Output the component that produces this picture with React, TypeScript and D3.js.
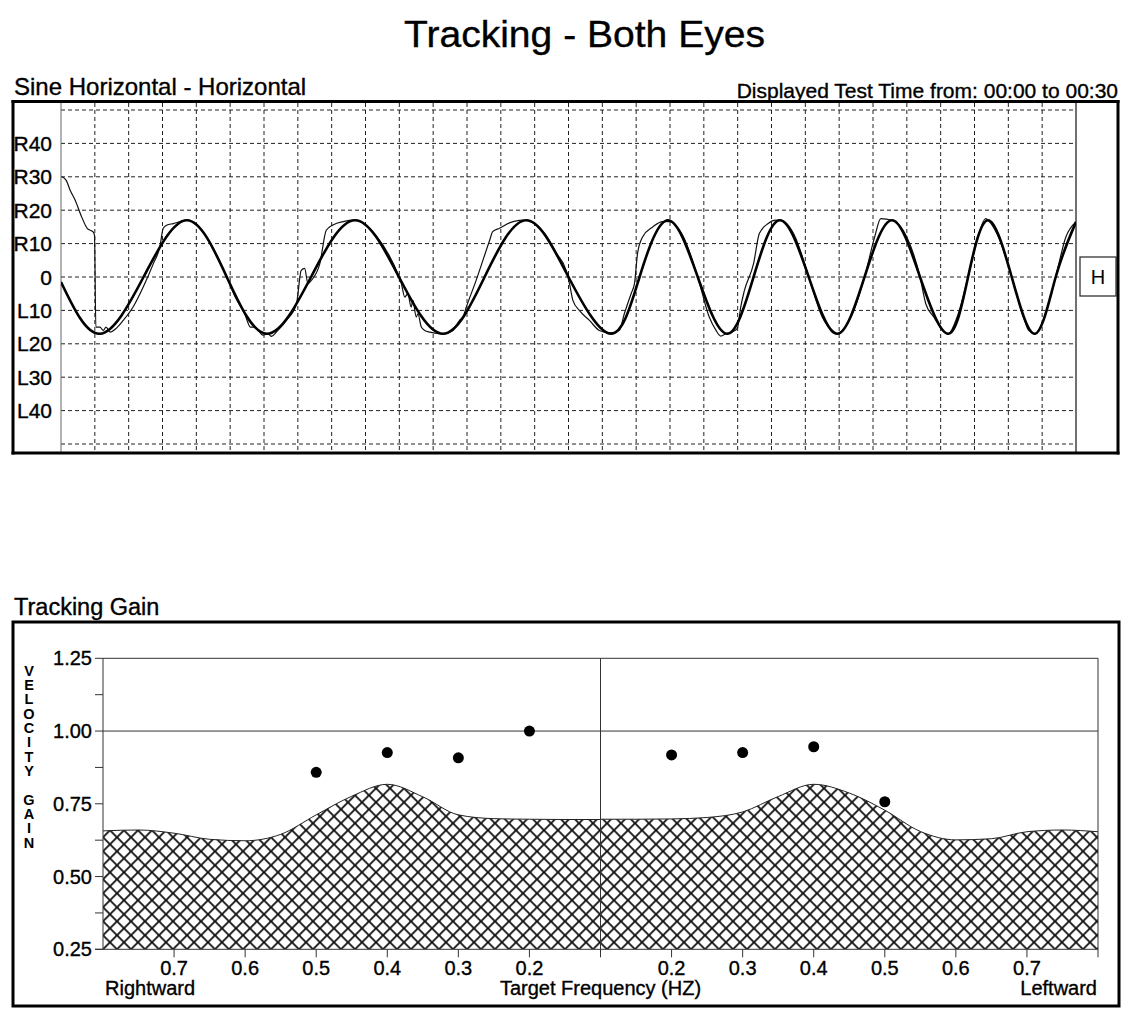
import React from "react";
import * as d3 from "d3";

const FONT = "'Liberation Sans', Arial, Helvetica, sans-serif";

// ---- top panel: sine tracking, seconds vs degrees ----
const rowLabels = ["R40", "R30", "R20", "R10", "0", "L10", "L20", "L30", "L40"];
const rowValues = [40, 30, 20, 10, 0, -10, -20, -30, -40];
const gridDegrees = [50, 40, 30, 20, 10, 0, -10, -20, -30, -40, -50];
const gridSeconds = [1, 2, 3, 4, 5, 6, 7, 8, 9, 10, 11, 12, 13, 14, 15, 16, 17, 18, 19, 20, 21, 22, 23, 24, 25, 26, 27, 28, 29];

// target position (thick line): extremes and zero crossings
const targetTrace: [number, number][] = [
  [0, -1.5], [1.15, -17], [2.44, 0], [3.72, 17], [4.9, 0], [6.09, -17], [7.39, 0],
  [8.69, 17], [9.99, 0], [11.29, -17], [12.52, 0], [13.75, 17], [15.0, 0], [16.26, -17],
  [17.1, 0], [17.94, 17], [18.82, 0], [19.69, -17], [20.47, 0], [21.25, 17], [22.1, 0],
  [22.94, -17], [23.75, 0], [24.56, 17], [25.39, 0], [26.22, -17], [26.81, 0], [27.4, 17],
  [28.1, 0], [28.79, -17], [29.4, 0], [30.0, 16.5],
];

// eye position (thin line)
const eyeTrace: [number, number][] = [
  [0.02, 30], [0.15, 29], [0.27, 26], [0.42, 23], [0.61, 18], [0.78, 14.5], [0.95, 13.5], [0.99, 12.5],
  [1.03, -15], [1.15, -15], [1.25, -16], [1.33, -15], [1.45, -16.5], [1.62, -15.5], [1.84, -13],
  [2.13, -9], [2.43, -3], [2.73, 4], [2.92, 9], [3.02, 14.5], [3.12, 15.5], [3.32, 16], [3.72, 17],
  [4.3, 12], [4.9, 0], [5.15, -6], [5.43, -11], [5.6, -15], [5.73, -15], [5.97, -17.4], [6.12, -17],
  [6.22, -17.8], [6.37, -16.4], [6.66, -13], [6.96, -8], [7.1, 2], [7.2, 2.6], [7.3, -2], [7.4, -1],
  [7.65, 4], [7.84, 14], [8.04, 15.6], [8.34, 16.6], [8.69, 17],
  [9.3, 12.5], [9.99, 0], [10.06, -2], [10.16, -6], [10.25, -5], [10.35, -9], [10.4, -7], [10.5, -12],
  [10.55, -11], [10.65, -15], [10.75, -16], [10.9, -16.5], [11.29, -17], [11.58, -16], [11.78, -13],
  [11.88, -12], [11.98, -9], [12.27, -1], [12.67, 11], [12.76, 13.6], [12.96, 14.6], [13.36, 16.6], [13.72, 17],
  [14.3, 13], [14.65, 7], [14.93, 2], [15.03, -2], [15.13, -7], [15.32, -10], [15.62, -13], [15.91, -16],
  [16.2, -16.7], [16.5, -16], [16.65, -11], [16.85, -5], [16.95, -2], [17.04, 7], [17.19, 12], [17.49, 15],
  [17.78, 16.6], [17.98, 16.6],
  [18.4, 12], [18.82, 0], [19.16, -12], [19.36, -16], [19.5, -17.7], [19.65, -17], [19.85, -16.4],
  [19.99, -15.4], [20.09, -9], [20.19, -4.4], [20.47, 4], [20.64, 13], [20.9, 16], [21.13, 17], [21.25, 17],
  [21.7, 12], [22.1, 0], [22.5, -12], [22.85, -16.5], [22.94, -17],
  [23.35, -12], [23.75, 0], [24.05, 12], [24.23, 17.5], [24.56, 17],
  [25.0, 12], [25.39, 0], [25.56, -8], [25.8, -12], [26.1, -16.5], [26.22, -17],
  [26.52, -11], [26.81, 0], [27.1, 12], [27.33, 17.5], [27.4, 17],
  [27.75, 11], [28.1, 0], [28.45, -12], [28.6, -16], [28.79, -17],
  [29.1, -11], [29.4, 0], [29.7, 12], [30.0, 16.5],
];

// ---- bottom panel: tracking gain ----
const freqTicks = [0.2, 0.3, 0.4, 0.5, 0.6, 0.7];
const gainTicks = [0.25, 0.5, 0.75, 1.0, 1.25];
const gainMinor = [0.375, 0.625, 0.875, 1.125];
const axisLetters = ["V", "E", "L", "O", "C", "I", "T", "Y", "", "G", "A", "I", "N"];

// upper edge of the normal range (hatched), frequency -> gain
const normalRightward: [number, number][] = [
  [0.8, 0.657], [0.75, 0.66], [0.7, 0.649], [0.65, 0.628], [0.6, 0.623], [0.55, 0.645], [0.5, 0.712],
  [0.45, 0.776], [0.4, 0.817], [0.35, 0.774], [0.3, 0.712], [0.25, 0.699], [0.2, 0.697], [0.15, 0.696], [0.1, 0.696],
];
const normalLeftward: [number, number][] = [
  [0.1, 0.697], [0.15, 0.697], [0.2, 0.698], [0.25, 0.703], [0.3, 0.722], [0.35, 0.775], [0.4, 0.817],
  [0.45, 0.787], [0.5, 0.728], [0.55, 0.655], [0.6, 0.626], [0.65, 0.63], [0.7, 0.654], [0.75, 0.66], [0.8, 0.654],
];

const gainRightward: [number, number][] = [[0.5, 0.858], [0.4, 0.926], [0.3, 0.908], [0.2, 1.0]];
const gainLeftward: [number, number][] = [[0.2, 0.918], [0.3, 0.926], [0.4, 0.946], [0.5, 0.757]];

const App: React.FC = () => {
  const W = 1122, H = 1010;

  // top panel scales
  const xT = d3.scaleLinear().domain([0, 30]).range([61, 1076]);
  const yT = d3.scaleLinear().domain([-50, 50]).range([444, 110]);

  const targetLine = d3.line<[number, number]>()
    .x(d => xT(d[0])).y(d => yT(d[1])).curve(d3.curveNatural);
  const eyeLine = d3.line<[number, number]>()
    .x(d => xT(d[0])).y(d => yT(d[1])).curve(d3.curveMonotoneX);

  // bottom panel scales (two mirrored halves)
  const xL = d3.scaleLinear().domain([0.8, 0.1]).range([103, 600.5]);
  const xR = d3.scaleLinear().domain([0.1, 0.8]).range([600.5, 1098]);
  const yG = d3.scaleLinear().domain([0.25, 1.25]).range([949.3, 658.3]);

  const areaL = d3.area<[number, number]>()
    .x(d => xL(d[0])).y0(yG(0.25)).y1(d => yG(d[1])).curve(d3.curveMonotoneX);
  const areaR = d3.area<[number, number]>()
    .x(d => xR(d[0])).y0(yG(0.25)).y1(d => yG(d[1])).curve(d3.curveMonotoneX);
  const edgeL = d3.line<[number, number]>()
    .x(d => xL(d[0])).y(d => yG(d[1])).curve(d3.curveMonotoneX);
  const edgeR = d3.line<[number, number]>()
    .x(d => xR(d[0])).y(d => yG(d[1])).curve(d3.curveMonotoneX);

  const fmt = d3.format(".1f");
  const fmt2 = d3.format(".2f");

  // scanned print looks a bit heavier than plain glyphs
  const ink = { stroke: "#000", strokeWidth: 0.35 };

  return (
    <svg width={W} height={H} style={{ position: "absolute", left: 0, top: 0, background: "#fff" }}
      fontFamily={FONT}>
      <defs>
        <pattern id="hatch" width={14} height={14} patternUnits="userSpaceOnUse" x={103} y={949.3}>
          <rect width={14} height={14} fill="#fff" />
          <path d="M-2,-2L16,16M16,-2L-2,16" stroke="#111" strokeWidth={1.8} />
        </pattern>
        <clipPath id="topClip">
          <rect x={61} y={102} width={1015} height={350} />
        </clipPath>
      </defs>
      <rect width={W} height={H} fill="#fff" />

      <text x={584.5} y={47} textAnchor="middle" fontSize={37} textLength={361}
        lengthAdjust="spacingAndGlyphs" {...ink}>Tracking - Both Eyes</text>

      {/* ---------- top panel ---------- */}
      <text x={14} y={95} fontSize={24} {...ink}>Sine Horizontal - Horizontal</text>
      <text x={1118} y={98} textAnchor="end" fontSize={21} {...ink}>Displayed Test Time from: 00:00 to 00:30</text>

      <g stroke="#222" strokeWidth={1} strokeDasharray="4,3" fill="none">
        {gridDegrees.map(v => (
          <line key={"h" + v} x1={61} x2={1076} y1={yT(v)} y2={yT(v)} />
        ))}
        {gridSeconds.map(s => (
          <line key={"v" + s} x1={xT(s)} x2={xT(s)} y1={103} y2={452} />
        ))}
      </g>
      <line x1={61} x2={61} y1={102} y2={452} stroke="#666" strokeWidth={1} />
      <line x1={1076} x2={1076} y1={102} y2={452} stroke="#111" strokeWidth={1.2} />

      {rowLabels.map((l, i) => (
        <text key={l} x={52} y={yT(rowValues[i]) + 7.5} textAnchor="end" fontSize={21} {...ink}>{l}</text>
      ))}

      <g clipPath="url(#topClip)" fill="none" strokeLinejoin="round">
        <path d={eyeLine(eyeTrace) || ""} stroke="#111" strokeWidth={1.2} />
        <path d={targetLine(targetTrace) || ""} stroke="#000" strokeWidth={2.6} />
      </g>

      <rect x={1080} y={257} width={36} height={39} fill="#fff" stroke="#333" strokeWidth={1.3} />
      <text x={1098} y={284} textAnchor="middle" fontSize={20}>H</text>

      <g stroke="#000" strokeWidth={3} fill="none">
        <line x1={11.5} x2={1119.5} y1={101.5} y2={101.5} />
        <line x1={13} x2={13} y1={100} y2={454.5} />
        <line x1={1118} x2={1118} y1={100} y2={454.5} />
        <line x1={11.5} x2={1119.5} y1={453} y2={453} />
      </g>

      {/* ---------- bottom panel ---------- */}
      <text x={14} y={615} fontSize={23.5} {...ink}>Tracking Gain</text>

      <path d={areaL(normalRightward) || ""} fill="url(#hatch)" />
      <path d={areaR(normalLeftward) || ""} fill="url(#hatch)" />
      <path d={edgeL(normalRightward) || ""} fill="none" stroke="#222" strokeWidth={1} />
      <path d={edgeR(normalLeftward) || ""} fill="none" stroke="#222" strokeWidth={1} />

      <g stroke="#333" strokeWidth={1} fill="none">
        <line x1={103} x2={1098} y1={yG(1.25)} y2={yG(1.25)} />
        <line x1={103} x2={1098} y1={yG(1.0)} y2={yG(1.0)} />
        <line x1={95} x2={1098} y1={yG(0.25)} y2={yG(0.25)} />
        <line x1={103} x2={103} y1={yG(1.25)} y2={yG(0.25)} />
        <line x1={1098} x2={1098} y1={yG(1.25)} y2={yG(0.25) + 8} />
        <line x1={600.5} x2={600.5} y1={yG(1.25)} y2={yG(0.25) + 8} />
        {gainTicks.concat(gainMinor).map(g => (
          <line key={"yt" + g} x1={95} x2={103} y1={yG(g)} y2={yG(g)} />
        ))}
        {freqTicks.map(f => (
          <g key={"xt" + f}>
            <line x1={xL(f)} x2={xL(f)} y1={yG(0.25)} y2={yG(0.25) + 8} />
            <line x1={xR(f)} x2={xR(f)} y1={yG(0.25)} y2={yG(0.25) + 8} />
          </g>
        ))}
      </g>

      {gainTicks.map(g => (
        <text key={"yl" + g} x={92} y={yG(g) + 7} textAnchor="end" fontSize={20} {...ink}>{fmt2(g)}</text>
      ))}
      {freqTicks.map(f => (
        <g key={"xl" + f} fontSize={20} textAnchor="middle" {...ink}>
          <text x={xL(f)} y={975}>{fmt(f)}</text>
          <text x={xR(f)} y={975}>{fmt(f)}</text>
        </g>
      ))}
      <g fontSize={20} {...ink}>
        <text x={105} y={995}>Rightward</text>
        <text x={600.5} y={995} textAnchor="middle">Target Frequency (HZ)</text>
        <text x={1097} y={995} textAnchor="end">Leftward</text>
      </g>

      {axisLetters.map((c, i) => (
        <text key={"al" + i} x={29} y={675.5 + i * 14.35} textAnchor="middle" fontSize={14.5}
          fontWeight="bold">{c}</text>
      ))}

      {gainRightward.map(d => (
        <circle key={"gr" + d[0]} cx={xL(d[0])} cy={yG(d[1])} r={5.5} fill="#000" />
      ))}
      {gainLeftward.map(d => (
        <circle key={"gl" + d[0]} cx={xR(d[0])} cy={yG(d[1])} r={5.5} fill="#000" />
      ))}

      <rect x={13} y={622} width={1106} height={384} fill="none" stroke="#000" strokeWidth={3} />
    </svg>
  );
};

export default App;
